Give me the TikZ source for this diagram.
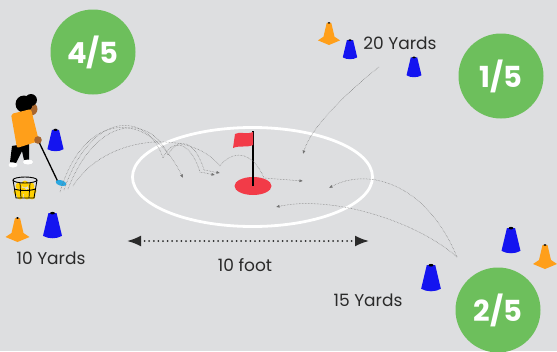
\documentclass[tikz,border=0pt]{standalone}
\usepackage{fontspec}
\setmainfont{Poppins}
\usetikzlibrary{arrows.meta, positioning, calc}
\definecolor{bg}{HTML}{DDDEE0}
\definecolor{turf}{HTML}{6DBF5C}
\definecolor{holered}{HTML}{F23B48}
\definecolor{coneblue}{HTML}{1414F0}
\definecolor{coneorange}{HTML}{FF9F1A}
\definecolor{skin}{HTML}{A8662E}
\definecolor{clubblue}{HTML}{2AA7E0}
\definecolor{ballyellow}{HTML}{FFD000}
\definecolor{ink}{HTML}{2A2A2A}
\tikzstyle{stage} = [circle, fill=turf, minimum size=85pt, inner sep=0pt, text=white, font=\fontsize{29}{29}\selectfont\bfseries]
\tikzstyle{yardtext} = [text=ink, font=\fontsize{17}{17}\selectfont, inner sep=0pt]
\tikzstyle{shot} = [black!55, line width=0.5pt, densely dotted, -{Latex[length=3.5pt,width=3pt]}]
\tikzstyle{measure} = [ink, line width=2pt, line cap=round, dash pattern=on 0pt off 4.6pt, {Latex[length=14pt,width=11pt]}-{Latex[length=14pt,width=11pt]}]
\tikzset{
  bluecone/.pic={
    \fill[coneblue] (-3.8,-23) -- (3.8,-23) -- (8.8,-2) .. controls (4,1) and (-4,1) .. (-8.8,-2) -- cycle;
    \fill[black] (0,-23) ellipse [x radius=2.2, y radius=1.2];
  },
  orangecone/.pic={
    \fill[coneorange] (-2.5,-24) -- (2.5,-24) -- (6,-9) -- (12,-5) -- (0,0) -- (-12,-5) -- (-6,-9) -- cycle;
    \fill[black] (0,-24) ellipse [x radius=1.6, y radius=0.9];
  }
}

\begin{document}
\begin{tikzpicture}[x=1pt, y=-1pt, >=Latex]
    \fill[bg] (0,0) rectangle (557,351);
    \useasboundingbox (0,0) rectangle (557,351);

    % Green with hole and flag
    \draw[white, line width=2.8pt] (252.5,177) ellipse [x radius=120, y radius=49.5];
    \fill[holered] (253,186) ellipse [x radius=18.5, y radius=9];
    \coordinate (hole) at (253,186);
    \coordinate (pin) at (253,131);
    \draw[black, line width=2.6pt] (hole) -- (pin);
    \fill[holered] (253,132) .. controls (246,135) and (240,131) .. (235,134) -- (233,148) .. controls (240,145) and (246,148) .. (253,145) -- cycle;

    % Stage circles
    \node (four) [stage] at (93,52) {4/5};
    \node (one) [stage] at (501,76) {1/5};
    \node (two) [stage] at (498,310) {2/5};

    % Distance labels
    \node (ten) [yardtext] at (51,258) {10 Yards};
    \node (twenty) [yardtext] at (400,43) {20 Yards};
    \node (fifteen) [yardtext] at (368,300) {15 Yards};
    \node (foot) [yardtext] at (245,265) {10 foot};

    % Width of the green
    \coordinate (ftL) at (127,241);
    \coordinate (ftR) at (369,241);
    \draw[measure] (ftL) -- (ftR);

    % Cones
    \pic[scale=0.92] at (329,45) {orangecone};
    \pic[scale=0.82] at (350,59) {bluecone};
    \pic[scale=0.85] at (414,77) {bluecone};
    \pic[scale=1.08] at (511,253) {bluecone};
    \pic[scale=1.0] at (545,269) {orangecone};
    \pic[scale=1.12] at (431,291) {bluecone};
    \pic[scale=0.92] at (55.5,151) {bluecone};
    \pic[scale=1.08] at (52.5,238) {bluecone};
    \pic[scale=1.0] at (17.5,242) {orangecone};

    % Golfer
    \fill[skin] (31,109) circle [radius=6.5];
    \fill[black] (24,104) circle [radius=8.5];
    \fill[black] (31,100) circle [radius=6];
    \fill[black] (12,146) -- (29,143) -- (29,160) -- (24,160) -- (22,151) -- (16,163) -- (10,162) -- cycle;
    \fill[white] (13,165) ellipse [x radius=4.5, y radius=2.5];
    \fill[white] (28,162) ellipse [x radius=5, y radius=2.5];
    \fill[coneorange, rounded corners=2pt] (11,114) -- (31,109) -- (39,141) -- (17,148) -- cycle;
    \coordinate (grip) at (38,140);
    \coordinate (clubhead) at (59,184);
    \draw[black, line width=1.3pt] (grip) -- (clubhead);
    \fill[skin] (grip) circle [radius=3.8];
    \fill[clubblue, rotate around={-15:(61,183)}] (61,183) ellipse [x radius=5.5, y radius=2.8];

    % Ball bucket
    \foreach \bx/\by in {19/186, 25/184, 31/186, 17/192, 23/191, 29/192, 33/191, 20/196, 27/196, 32/196} {
        \fill[ballyellow] (\bx,\by) circle [radius=3.4];
    }
    \draw[black, line width=0.9pt] (25,180) ellipse [x radius=12, y radius=3];
    \draw[black, line width=0.9pt] (13,180) -- (16,198) -- (34,198) -- (37,180);
    \draw[black, line width=0.9pt] (14.5,189) .. controls (20,191) and (30,191) .. (35.5,189);
    \draw[black, line width=0.7pt] (20,183) -- (21,198) (30,183) -- (29,198);

    % Ball flights
    \coordinate (tee1) at (60,192);
    \coordinate (tee2) at (64,190);
    \coordinate (tee3) at (68,189);
    \coordinate (tee4) at (73,186);
    \coordinate (land1) at (183,178);
    \coordinate (land2) at (215,175);
    \coordinate (land3) at (220,173);
    \coordinate (land4) at (303,181);
    \coordinate (land5) at (303,154);
    \coordinate (land6) at (329,188);
    \coordinate (land7) at (276,207);
    \coordinate (far20) at (379,67);
    \coordinate (far15) at (457,257);

    \draw[shot] (tee1) .. controls (85,108) and (150,110) .. (land1);
    \draw[shot] (tee2) .. controls (92,108) and (148,112) .. (163,158) .. controls (172,138) and (190,140) .. (200,172) -- (land2);
    \draw[shot] (tee3) .. controls (98,112) and (152,116) .. (168,155) .. controls (178,136) and (195,140) .. (204,170) -- (land3);
    \draw[shot] (tee4) .. controls (105,135) and (190,128) .. (220,166) .. controls (232,150) and (252,150) .. (264,178) -- (land4);
    \draw[shot] (far20) .. controls (350,90) and (312,125) .. (land5);
    \draw[shot] (far15) .. controls (425,180) and (365,168) .. (land6);
    \draw[shot] (far15) .. controls (415,220) and (330,195) .. (land7);

\end{tikzpicture}
\end{document}
